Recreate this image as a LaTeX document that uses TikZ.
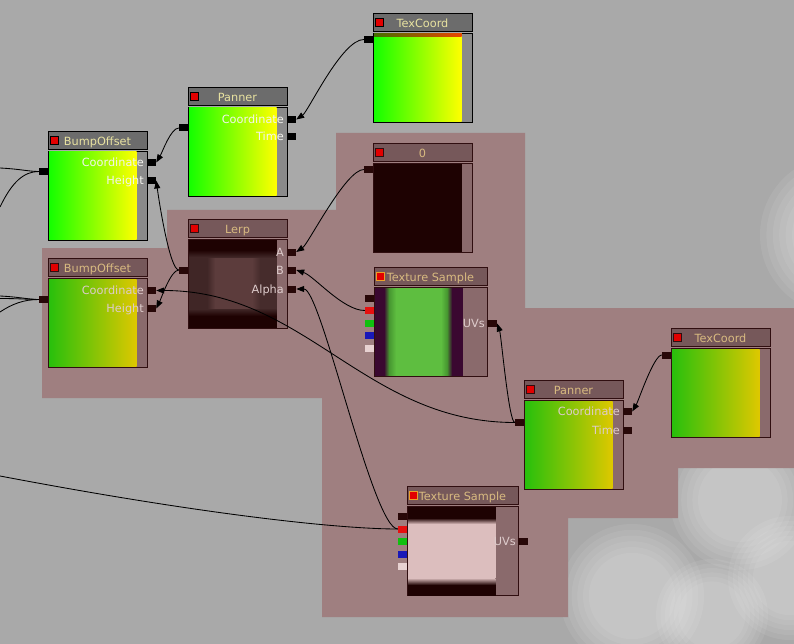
\documentclass[tikz,border=0pt]{standalone}
\usepackage{fontspec}
\newfontfamily\uifont{DejaVu Sans}
\usetikzlibrary{arrows.meta,calc}
\definecolor{BgGray}{RGB}{169,169,169}
\definecolor{PinkBg}{RGB}{159,127,128}
\definecolor{TitleG}{RGB}{108,108,108}
\definecolor{ColG}{RGB}{138,138,138}
\definecolor{EdgeG}{RGB}{0,0,0}
\definecolor{PortG}{RGB}{0,0,0}
\definecolor{TtxtG}{RGB}{232,226,160}
\definecolor{LtxtG}{RGB}{244,244,238}
\definecolor{TitleP}{RGB}{118,88,90}
\definecolor{ColP}{RGB}{138,106,108}
\definecolor{EdgeP}{RGB}{48,14,16}
\definecolor{PortP}{RGB}{40,8,8}
\definecolor{TtxtP}{RGB}{216,186,128}
\definecolor{LtxtP}{RGB}{222,204,204}
\definecolor{GrnG}{RGB}{20,255,0}
\definecolor{YelG}{RGB}{255,255,0}
\definecolor{GrnP}{RGB}{40,192,12}
\definecolor{YelP}{RGB}{222,200,0}
\definecolor{IconRed}{RGB}{226,0,0}
\definecolor{IconOrange}{RGB}{236,160,40}
\definecolor{Maroon}{RGB}{30,2,2}
\definecolor{LerpSide}{RGB}{64,38,38}
\definecolor{LerpSideR}{RGB}{70,44,44}
\definecolor{LerpCenter}{RGB}{92,60,60}
\definecolor{TsPurple}{RGB}{58,8,48}
\definecolor{TsDark}{RGB}{70,150,48}
\definecolor{TsBright}{RGB}{94,190,64}
\definecolor{TsPale}{RGB}{220,190,190}
\definecolor{PRed}{RGB}{230,16,16}
\definecolor{PGreen}{RGB}{16,192,16}
\definecolor{PBlue}{RGB}{24,24,184}
\definecolor{PWhite}{RGB}{232,210,210}
\tikzset{
  titlebar/.style={rectangle, anchor=north west, minimum height=18pt, inner sep=0pt, line width=1pt},
  bodybox/.style={rectangle, anchor=north west, minimum height=89pt, inner sep=0pt, line width=1pt},
  icon/.style={rectangle, minimum size=8pt, inner sep=0pt, fill=IconRed, line width=1pt},
  ttext/.style={anchor=base, inner sep=0pt, font=\uifont\fontsize{11.3pt}{13pt}\selectfont},
  ltext/.style={anchor=base east, inner sep=0pt, font=\uifont\fontsize{11.3pt}{13pt}\selectfont},
  port/.style={rectangle, minimum width=9pt, minimum height=7pt, inner sep=0pt},
  wire/.style={line width=0.85pt, black},
  arrowed/.style={-{Triangle[length=8pt,width=6pt]}},
  haze/.style={fill=white, fill opacity=0.07},
}
% soft cloud puff: x, y, radius
\newcommand{\Puff}[3]{%
  \foreach \k in {1.0,0.92,0.84,0.76,0.68,0.6}{\fill[haze] (#1,#2) circle (\k*#3 pt);}
}
% #1 name, #2 x, #3 y, #4 width, #5 title, #6 theme, #7 icon options
\newcommand{\MatFrame}[7]{%
  \node[titlebar, draw=Edge#6, fill=Title#6, minimum width=#4pt] (#1-t) at (#2,#3) {};
  \node[icon, draw=Edge#6, #7] (#1-i) at (#2+6.5,#3+9.5) {};
  \node[ttext, text=Ttxt#6] (#1-n) at (#2+#4/2,#3+14.5) {#5};
  \node[bodybox, draw=Edge#6, fill=Col#6, minimum width=#4pt] (#1-b) at (#2,#3+20) {};
}
\newcommand{\PrevGY}[3]{%
  \shade[left color=Grn#3, right color=Yel#3] (#1+1,#2+21) rectangle (#1+88.5,#2+108.5);
}
\begin{document}
\begin{tikzpicture}[x=1pt,y=-1pt]
\useasboundingbox (0,0) rectangle (794,644);
\fill[BgGray] (0,0) rectangle (794,644);
% clouds
\begin{scope}
\clip (0,0) rectangle (794,644);
\Puff{840}{235}{80}
\Puff{740}{500}{70}
\Puff{632}{596}{72}
\Puff{712}{615}{56}
\Puff{790}{578}{62}
\end{scope}
% comment region
\fill[PinkBg] (336,133) -- (525,133) -- (525,308) -- (794,308) -- (794,468) -- (678,468) -- (678,518) -- (568,518) -- (568,617) -- (322,617) -- (322,398) -- (42,398) -- (42,248) -- (167,248) -- (167,210) -- (336,210) -- cycle;

% ---- TexCoord (top)
\MatFrame{tc1}{373}{13}{99}{TexCoord}{G}{}
\PrevGY{373}{13}{G}
\shade[left color={rgb,255:red,70;green,110;blue,0}, right color={rgb,255:red,235;green,70;blue,0}] (374,34) rectangle (461.5,37);
\node[port, fill=PortG] (tc1-in) at (368.5,39.5) {};

% ---- Panner (top)
\MatFrame{pn1}{188}{87}{99}{Panner}{G}{}
\PrevGY{188}{87}{G}
\node[ltext, text=LtxtG] (pn1-lc) at (284,123.5) {Coordinate};
\node[ltext, text=LtxtG] (pn1-lt) at (284,141) {Time};
\node[port, fill=PortG] (pn1-in) at (183.5,128) {};
\node[port, fill=PortG] (pn1-c) at (291.5,119.5) {};
\node[port, fill=PortG] (pn1-tm) at (291.5,137) {};

% ---- BumpOffset (top)
\MatFrame{bo1}{48}{131}{99}{BumpOffset}{G}{}
\PrevGY{48}{131}{G}
\node[ltext, text=LtxtG] (bo1-lc) at (144,166.5) {Coordinate};
\node[ltext, text=LtxtG] (bo1-lh) at (144,184.5) {Height};
\node[port, fill=PortG] (bo1-in) at (43.5,171.5) {};
\node[port, fill=PortG] (bo1-c) at (151.5,162.5) {};
\node[port, fill=PortG] (bo1-h) at (151.5,180.5) {};

% ---- BumpOffset (lower)
\MatFrame{bo2}{48}{258}{99}{BumpOffset}{P}{}
\PrevGY{48}{258}{P}
\node[ltext, text=LtxtP] (bo2-lc) at (144,294.5) {Coordinate};
\node[ltext, text=LtxtP] (bo2-lh) at (144,312.5) {Height};
\node[port, fill=PortP] (bo2-in) at (43.5,299.5) {};
\node[port, fill=PortP] (bo2-c) at (151.5,290.5) {};
\node[port, fill=PortP] (bo2-h) at (151.5,308.5) {};

% ---- Lerp
\MatFrame{lp}{188}{219}{99}{Lerp}{P}{}
\fill[LerpSide] (189,240) rectangle (207,327.5);
\shade[left color=LerpSide, right color=LerpCenter] (207,240) rectangle (215,327.5);
\fill[LerpCenter] (215,240) rectangle (252,327.5);
\shade[left color=LerpCenter, right color=LerpSideR] (252,240) rectangle (260,327.5);
\fill[LerpSideR] (260,240) rectangle (276.5,327.5);
\fill[Maroon] (189,240) rectangle (276.5,250);
\shade[top color=Maroon, bottom color=LerpSide] (189,250) rectangle (276.5,257);
\shade[top color=LerpSide, bottom color=Maroon] (189,309) rectangle (276.5,316);
\fill[Maroon] (189,316) rectangle (276.5,327.5);
\node[ltext, text=LtxtP] (lp-la) at (284,256) {A};
\node[ltext, text=LtxtP] (lp-lb) at (284,274) {B};
\node[ltext, text=LtxtP] (lp-lal) at (284,293) {Alpha};
\node[port, fill=PortP] (lp-out) at (183.5,270) {};
\node[port, fill=PortP] (lp-a) at (291.5,252) {};
\node[port, fill=PortP] (lp-b) at (291.5,270) {};
\node[port, fill=PortP] (lp-al) at (291.5,289) {};

% ---- Constant 0
\MatFrame{zr}{373}{143}{99}{0}{P}{}
\fill[Maroon] (374,164) rectangle (461.5,251.5);
\node[port, fill=PortP] (zr-in) at (368.5,169.5) {};

% ---- Texture Sample (upper)
\MatFrame{ts1}{374}{267}{113}{Texture Sample}{P}{draw=IconOrange}
\fill[TsPurple] (375,288) rectangle (384,375.5);
\shade[left color=TsPurple, right color=TsDark] (384,288) rectangle (389,375.5);
\shade[left color=TsDark, right color=TsBright] (389,288) rectangle (396,375.5);
\fill[TsBright] (396,288) rectangle (441,375.5);
\shade[left color=TsBright, right color=TsDark] (441,288) rectangle (447,375.5);
\shade[left color=TsDark, right color=TsPurple] (447,288) rectangle (452,375.5);
\fill[TsPurple] (452,288) rectangle (462.5,375.5);
\node[ltext, text=LtxtP] (ts1-luv) at (485,327.5) {UVs};
\node[port, fill=PortP] (ts1-k) at (369.5,298) {};
\node[port, fill=PRed] (ts1-r) at (369.5,310.5) {};
\node[port, fill=PGreen] (ts1-g) at (369.5,323) {};
\node[port, fill=PBlue] (ts1-bl) at (369.5,335.5) {};
\node[port, fill=PWhite] (ts1-w) at (369.5,348) {};
\node[port, fill=PortP, minimum width=10pt] (ts1-uv) at (492,323.5) {};

% ---- TexCoord (lower)
\MatFrame{tc2}{671}{328}{99}{TexCoord}{P}{}
\PrevGY{671}{328}{P}
\node[port, fill=PortP] (tc2-in) at (666.5,355) {};

% ---- Panner (lower)
\MatFrame{pn2}{524}{380}{99}{Panner}{P}{}
\PrevGY{524}{380}{P}
\node[ltext, text=LtxtP] (pn2-lc) at (620,415.5) {Coordinate};
\node[ltext, text=LtxtP] (pn2-lt) at (620,434.5) {Time};
\node[port, fill=PortP] (pn2-in) at (519.5,422.5) {};
\node[port, fill=PortP] (pn2-c) at (627.5,411.5) {};
\node[port, fill=PortP] (pn2-tm) at (627.5,430.5) {};

% ---- Texture Sample (lower)
\MatFrame{ts2}{407}{486}{111}{Texture Sample}{P}{draw=IconOrange}
\fill[Maroon] (408,507) rectangle (495.5,595.5);
\shade[top color=Maroon, bottom color=TsPale] (408,518) rectangle (495.5,524);
\fill[TsPale] (408,524) rectangle (495.5,578);
\shade[top color=TsPale, bottom color=Maroon] (408,578) rectangle (495.5,585);
\node[ltext, text=LtxtP] (ts2-luv) at (516,545.5) {UVs};
\node[port, fill=PortP] (ts2-k) at (402.5,516.5) {};
\node[port, fill=PRed] (ts2-r) at (402.5,529) {};
\node[port, fill=PGreen] (ts2-g) at (402.5,541.5) {};
\node[port, fill=PBlue] (ts2-bl) at (402.5,554) {};
\node[port, fill=PWhite] (ts2-w) at (402.5,566.5) {};
\node[port, fill=PortP, minimum width=10pt] (ts2-uv) at (523,541.5) {};

% ---- free ends at the left edge
\coordinate (e1) at (0,476);
\coordinate (e2) at (0,168);
\coordinate (e3) at (0,207);
\coordinate (e4) at (0,296);
\coordinate (e5) at (0,298.5);
\coordinate (e6) at (0,312);

% ---- wires
\draw[wire, arrowed] (tc1-in.west) .. controls +(-22,0) and +(12,-8) .. (pn1-c.east);
\draw[wire, arrowed] (pn1-in.west) .. controls +(-8,0) and +(6,-10) .. (bo1-c.east);
\draw[wire, arrowed] (lp-out.west) .. controls +(-9,0) and +(3,22) .. (bo1-h.east);
\draw[wire, arrowed] (lp-out.west) .. controls +(-8,0) and +(5,-10) .. (bo2-h.east);
\draw[wire, arrowed] (pn2-in.west) .. controls +(-150,0) and +(150,0) .. (bo2-c.east);
\draw[wire, arrowed] (zr-in.west) .. controls +(-18,0) and +(12,-8) .. (lp-a.east);
\draw[wire, arrowed] (ts1-r.west) .. controls +(-22,0) and +(18,6) .. (lp-b.east);
\draw[wire, arrowed] (ts2-r.west) .. controls +(-25,0) and +(25,0) .. (lp-al.east);
\draw[wire] (e1) .. controls +(200,38) and +(-60,0) .. (ts2-r.west);
\draw[wire, arrowed] (pn2-in.west) .. controls +(-6,0) and +(4,12) .. (ts1-uv.east);
\draw[wire, arrowed] (tc2-in.west) .. controls +(-8,0) and +(6,-10) .. (pn2-c.east);
\draw[wire] (e2) .. controls +(20,1) and +(-10,0) .. (bo1-in.west);
\draw[wire] (e3) .. controls +(12,-25) and +(-15,0) .. (bo1-in.west);
\draw[wire] (e4) .. controls +(20,1) and +(-10,0) .. (bo2-in.west);
\draw[wire] (e5) .. controls +(20,0) and +(-10,0) .. (bo2-in.west);
\draw[wire] (e6) .. controls +(12,-8) and +(-15,0) .. (bo2-in.west);
\end{tikzpicture}
\end{document}
